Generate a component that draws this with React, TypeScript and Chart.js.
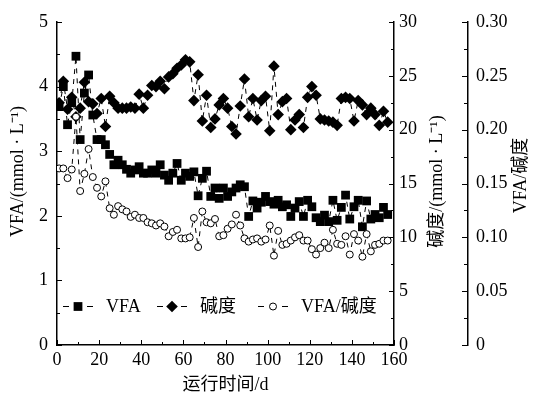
import React, { useEffect, useRef } from "react";
import { Chart, registerables } from "chart.js";

Chart.register(...registerables);

// ---- data ----
const days = [
  1, 3, 5, 7, 9, 11, 13, 15, 17, 19,
  21, 23, 25, 27, 29, 31, 33, 35, 37, 39,
  41, 43, 45, 47, 49, 51, 53, 55, 57, 59,
  61, 63, 65, 67, 69, 71, 73, 75, 77, 79,
  81, 83, 85, 87, 89, 91, 93, 95, 97, 99,
  101, 103, 105, 107, 109, 111, 113, 115, 117, 119,
  121, 123, 125, 127, 129, 131, 133, 135, 137, 139,
  141, 143, 145, 147, 149, 151, 153, 155, 157,
];

const vfa = [
  3.69, 4.0, 3.41, 3.75, 4.47, 3.18, 3.9, 4.18, 3.56, 3.18,
  3.18, 3.1, 2.95, 2.79, 2.86, 2.79, 2.72, 2.66, 2.71, 2.76,
  2.66, 2.66, 2.71, 2.66, 2.79, 2.63, 2.55, 2.66, 2.81, 2.55,
  2.66, 2.61, 2.68, 2.31, 2.58, 2.69, 2.3, 2.43, 2.27, 2.43,
  2.3, 2.37, 2.43, 2.48, 2.45, 1.99, 2.23, 2.12, 2.21, 2.3,
  2.22, 2.18, 2.24, 2.14, 2.17, 1.99, 2.12, 2.22, 1.99, 2.24,
  2.14, 1.97, 1.91, 2.01, 1.91, 2.24, 1.93, 2.13, 2.32, 1.95,
  2.14, 2.24, 1.83, 2.23, 1.95, 2.02, 1.97, 2.13, 2.02,
];

const alkalinity = [
  22.5, 24.5, 21.9, 23.0, 21.2, 22.0, 24.4, 22.6, 22.4, 21.5,
  22.9, 20.3, 23.1, 22.5, 22.0, 22.0, 22.0, 22.1, 22.0, 23.3,
  22.0, 23.2, 24.1, 24.0, 24.5, 23.8, 24.9, 25.2, 25.7, 26.0,
  26.5, 26.3, 22.7, 25.1, 20.8, 23.2, 20.2, 21.0, 22.3, 22.9,
  22.0, 20.3, 19.6, 22.2, 24.7, 21.2, 22.9, 20.9, 22.7, 23.1,
  19.9, 25.9, 21.4, 22.6, 22.9, 20.0, 20.9, 21.4, 20.2, 23.0,
  24.0, 23.2, 21.0, 20.9, 20.8, 20.7, 20.4, 22.9, 23.0, 22.9,
  20.8, 22.7, 22.3, 21.4, 22.0, 21.4, 20.4, 21.7, 20.7,
];

const ratio = [
  0.164, 0.164, 0.155, 0.163, 0.212, 0.143, 0.159, 0.182, 0.156, 0.146,
  0.138, 0.152, 0.127, 0.121, 0.129, 0.126, 0.124, 0.119, 0.121, 0.118,
  0.118, 0.114, 0.113, 0.111, 0.113, 0.11, 0.101, 0.105, 0.107, 0.099,
  0.099, 0.1, 0.118, 0.091, 0.124, 0.114, 0.113, 0.117, 0.101, 0.102,
  0.108, 0.112, 0.121, 0.111, 0.099, 0.096, 0.098, 0.099, 0.096, 0.098,
  0.111, 0.083, 0.106, 0.093, 0.094, 0.097, 0.1, 0.102, 0.097, 0.097,
  0.089, 0.084, 0.09, 0.095, 0.09, 0.107, 0.094, 0.093, 0.101, 0.084,
  0.103, 0.097, 0.082, 0.103, 0.087, 0.093, 0.094, 0.097, 0.097,
];

const xTicks = [0, 20, 40, 60, 80, 100, 120, 140, 160];
const vfaTicks = [0, 1, 2, 3, 4, 5];
const alkTicks = [0, 5, 10, 15, 20, 25, 30];
const ratioTicks = [0, 0.05, 0.1, 0.15, 0.2, 0.25, 0.3];
const ratioTickLabels = ["0", "0.05", "0.10", "0.15", "0.20", "0.25", "0.30"];

const seriesNames = ["VFA", "碱度", "VFA/碱度"];
const xTitle = "运行时间/d";
const vfaTitle = "VFA/(mmol · L⁻¹)";
const alkTitle = "碱度/(mmol · L⁻¹)";
const ratioTitle = "VFA/碱度";

const FONT_FAMILY = '"Liberation Serif", "Times New Roman", "Noto Sans CJK SC", serif';
const FONT_SIZE = 18;

const SQUARE_R = 6.2;
const DIAMOND_R = 5.8;
const CIRCLE_R = 3.5;

function drawMarker(ctx: CanvasRenderingContext2D, kind: string, x: number, y: number) {
  ctx.save();
  ctx.setLineDash([]);
  if (kind === "rect") {
    const h = SQUARE_R * Math.SQRT1_2;
    ctx.fillStyle = "#000";
    ctx.fillRect(x - h, y - h, 2 * h, 2 * h);
  } else if (kind === "rectRot") {
    ctx.fillStyle = "#000";
    ctx.beginPath();
    ctx.moveTo(x, y - DIAMOND_R);
    ctx.lineTo(x + DIAMOND_R, y);
    ctx.lineTo(x, y + DIAMOND_R);
    ctx.lineTo(x - DIAMOND_R, y);
    ctx.closePath();
    ctx.fill();
  } else {
    ctx.fillStyle = "#fff";
    ctx.strokeStyle = "#000";
    ctx.lineWidth = 1;
    ctx.beginPath();
    ctx.arc(x, y, CIRCLE_R, 0, Math.PI * 2);
    ctx.fill();
    ctx.stroke();
  }
  ctx.restore();
}

const decorPlugin = {
  id: "decor",
  afterDraw(chart: any) {
    const ctx: CanvasRenderingContext2D = chart.ctx;
    const { x, y, y1, y2 } = chart.scales;
    const area = chart.chartArea;
    ctx.save();
    ctx.strokeStyle = "#000";
    ctx.lineWidth = 1;
    ctx.setLineDash([]);

    const seg = (x0: number, y0: number, x1: number, y1_: number) => {
      ctx.beginPath();
      ctx.moveTo(x0, y0);
      ctx.lineTo(x1, y1_);
      ctx.stroke();
    };
    const withMinor = (arr: number[]) => {
      const out: { v: number; major: boolean }[] = [];
      arr.forEach((v, i) => {
        out.push({ v, major: true });
        if (i < arr.length - 1) out.push({ v: (v + arr[i + 1]) / 2, major: false });
      });
      return out;
    };

    withMinor(xTicks).forEach(({ v, major }) => {
      const px = Math.round(x.getPixelForValue(v)) + 0.5;
      seg(px, area.bottom, px, area.bottom - (major ? 5 : 3));
    });
    withMinor(vfaTicks).forEach(({ v, major }) => {
      const py = Math.round(y.getPixelForValue(v)) + 0.5;
      seg(area.left, py, area.left + (major ? 5 : 3), py);
    });
    withMinor(alkTicks).forEach(({ v, major }) => {
      const py = Math.round(y1.getPixelForValue(v)) + 0.5;
      seg(area.right, py, area.right - (major ? 5 : 3), py);
    });
    withMinor(ratioTicks).forEach(({ v, major }) => {
      const py = Math.round(y2.getPixelForValue(v)) + 0.5;
      seg(y2.left, py, y2.left - (major ? 6 : 4), py);
    });

    ctx.fillStyle = "#000";
    ctx.font = `${FONT_SIZE}px ${FONT_FAMILY}`;
    ctx.textAlign = "center";
    ctx.textBaseline = "middle";
    const rot = (text: string, cx: number, cy: number) => {
      ctx.save();
      ctx.translate(cx, cy);
      ctx.rotate(-Math.PI / 2);
      ctx.fillText(text, 0, 0);
      ctx.restore();
    };
    const midY = (area.top + area.bottom) / 2;
    rot(vfaTitle, 18, midY - 12);
    rot(alkTitle, y1.left + 43, midY - 2);
    rot(ratioTitle, y2.left + 53, midY - 8);

    const ly = area.bottom - 39;
    const items = [
      { name: seriesNames[0], kind: "rect", x0: area.left + 6 },
      { name: seriesNames[1], kind: "rectRot", x0: area.left + 100 },
      { name: seriesNames[2], kind: "circle", x0: area.left + 201 },
    ];
    items.forEach((it) => {
      ctx.save();
      ctx.strokeStyle = "#000";
      ctx.lineWidth = 1;
      ctx.setLineDash([6, 6]);
      seg(it.x0, ly + 0.5, it.x0 + 30, ly + 0.5);
      ctx.restore();
      drawMarker(ctx, it.kind, it.x0 + 15, ly + 0.5);
      ctx.textAlign = "left";
      ctx.textBaseline = "middle";
      ctx.fillText(it.name, it.x0 + 43, ly + 1);
    });
    ctx.restore();
  },
};

export default function App() {
  const canvasRef = useRef<HTMLCanvasElement | null>(null);

  useEffect(() => {
    if (!canvasRef.current) return;
    const font = { family: FONT_FAMILY, size: FONT_SIZE };
    const common = {
      color: "#000",
      borderColor: "#000",
      borderWidth: 1,
      borderDash: [5, 5],
      tension: 0,
      fill: false,
      pointBorderColor: "#000",
    };
    const chart = new Chart(canvasRef.current, {
      type: "line",
      data: {
        datasets: [
          {
            ...common,
            label: seriesNames[2],
            data: days.map((d, i) => ({ x: d, y: ratio[i] })),
            yAxisID: "y2",
            pointStyle: "circle",
            pointRadius: CIRCLE_R,
            pointBorderWidth: 1,
            pointBackgroundColor: "#fff",
            order: 0,
          },
          {
            ...common,
            label: seriesNames[1],
            data: days.map((d, i) => ({ x: d, y: alkalinity[i] })),
            yAxisID: "y1",
            pointStyle: "rectRot",
            pointRadius: DIAMOND_R,
            pointBorderWidth: 0,
            pointBackgroundColor: "#000",
            order: 1,
          },
          {
            ...common,
            label: seriesNames[0],
            data: days.map((d, i) => ({ x: d, y: vfa[i] })),
            yAxisID: "y",
            pointStyle: "rect",
            pointRadius: SQUARE_R,
            pointBorderWidth: 0,
            pointBackgroundColor: "#000",
            order: 2,
          },
        ] as any,
      },
      options: {
        animation: false,
        responsive: false,
        events: [],
        layout: { padding: { top: 22, left: 0, right: 0, bottom: 0 } },
        plugins: { legend: { display: false }, tooltip: { enabled: false } },
        scales: {
          x: {
            type: "linear",
            min: 0,
            max: 160,
            afterBuildTicks: (s: any) => {
              s.ticks = xTicks.map((v) => ({ value: v }));
            },
            ticks: { color: "#000", font, padding: 4, maxRotation: 0, autoSkip: false },
            grid: { display: false, drawTicks: false },
            border: { display: true, color: "#000", width: 1.5 },
            title: { display: true, text: xTitle, color: "#000", font, padding: { top: 0, bottom: 2 } },
            afterFit: (s: any) => {
              s.height = 53;
            },
          },
          y: {
            position: "left",
            min: 0,
            max: 5,
            afterBuildTicks: (s: any) => {
              s.ticks = vfaTicks.map((v) => ({ value: v }));
            },
            ticks: { color: "#000", font, padding: 9 },
            grid: { display: false, drawTicks: false },
            border: { display: true, color: "#000", width: 1.5 },
            afterFit: (s: any) => {
              s.width = 57;
            },
          },
          y1: {
            position: "right",
            min: 0,
            max: 30,
            afterBuildTicks: (s: any) => {
              s.ticks = alkTicks.map((v) => ({ value: v }));
            },
            ticks: { color: "#000", font, padding: 5 },
            grid: { display: false, drawTicks: false },
            border: { display: true, color: "#000", width: 1.5 },
            afterFit: (s: any) => {
              s.width = 74;
            },
          },
          y2: {
            position: "right",
            min: 0,
            max: 0.3,
            afterBuildTicks: (s: any) => {
              s.ticks = ratioTicks.map((v) => ({ value: v }));
            },
            ticks: {
              color: "#000",
              font,
              padding: 8,
              callback: (_v: any, i: number) => ratioTickLabels[i],
            },
            grid: { display: false, drawTicks: false },
            border: { display: true, color: "#000", width: 1.5 },
            afterFit: (s: any) => {
              s.width = 69;
            },
          },
        },
      } as any,
      plugins: [decorPlugin],
    });
    return () => chart.destroy();
  }, []);

  return (
    <div style={{ position: "fixed", left: 0, top: 0, width: 537, height: 398, background: "#fff" }}>
      <canvas ref={canvasRef} width={537} height={398} style={{ display: "block" }} />
    </div>
  );
}
